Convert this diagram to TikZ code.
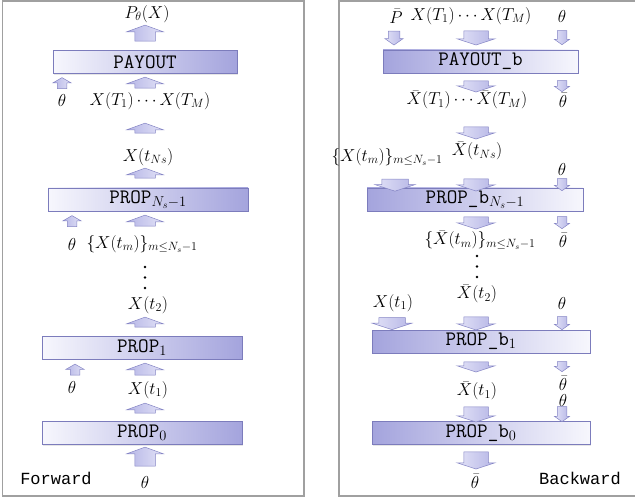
\documentclass[tikz,border=0pt]{standalone}
\usepackage{fontspec}
\newfontfamily\courfont{Liberation Mono}
\usetikzlibrary{shapes.arrows,shadows}

\definecolor{BoxLight}{HTML}{F7F7FD}
\definecolor{BoxDark}{HTML}{A4A4DD}
\definecolor{BoxEdge}{HTML}{7C7CBC}
\definecolor{ArrFill}{HTML}{B6B6E6}
\definecolor{ArrLight}{HTML}{E2E2F7}
\definecolor{ArrEdge}{HTML}{8484C4}
\definecolor{Frame}{HTML}{A0A0A0}

\begin{document}
\begin{tikzpicture}[
  x=1pt, y=-1pt,
  lbl/.style={font=\fontsize{17}{20}\selectfont, inner sep=0pt},
  box/.style={draw=BoxEdge, line width=0.6pt, minimum height=23pt, inner sep=0pt,
    font=\fontsize{20.5}{22}\selectfont\ttfamily,
    drop shadow={opacity=0.2, shadow xshift=0.8pt, shadow yshift=-1.2pt}},
  fwdbox/.style={box, left color=BoxLight, right color=BoxDark},
  bwdbox/.style={box, left color=BoxDark, right color=BoxLight},
  arr/.style={single arrow, draw=ArrEdge, line width=0.5pt,
    inner xsep=0pt, minimum width=0pt},
  uparr/.style={arr, rotate=90, left color=ArrFill, right color=ArrLight},
  dnarr/.style={arr, rotate=-90, left color=ArrLight, right color=ArrFill},
  fwdarr/.style={uparr, inner ysep=10pt, single arrow head extend=8pt, single arrow tip angle=140},
  fwdsmall/.style={uparr, inner ysep=4.5pt, single arrow head extend=4.5pt, single arrow tip angle=120, minimum height=11pt},
  bwdarr/.style={dnarr, inner ysep=12pt, single arrow head extend=6.5pt, single arrow tip angle=144},
  bwdwide/.style={dnarr, inner ysep=13pt, single arrow head extend=6.5pt, single arrow tip angle=144, minimum height=12pt},
  bwdsmall/.style={dnarr, inner ysep=4.5pt, single arrow head extend=2.8pt, single arrow tip angle=110},
  dot/.style={circle, fill=black, inner sep=0pt, minimum size=2.8pt},
  tag/.style={font=\fontsize{17}{20}\selectfont\courfont, inner sep=0pt},
]
\useasboundingbox (0,0) rectangle (635,500);

% ---- frames ----
\draw[Frame, line width=1.6pt] (2.5,1) rectangle (304,496);
\draw[Frame, line width=1.6pt] (339,1) rectangle (645,496);

% ---- left: forward sweep ----
\node[fwdbox, minimum width=184pt] (payout) at (145,62) {PAYOUT};
\node[fwdbox, minimum width=200pt] (propN) at (148,199.5) {PROP$_{N_s-1}$};
\node[fwdbox, minimum width=200pt] (prop1) at (142,347.5) {PROP$_1$};
\node[fwdbox, minimum width=200pt] (prop0) at (142,433) {PROP$_0$};

\foreach \n/\y/\h in {1/35/16, 2/84.5/11, 3/130/10, 4/175/10, 5/222.5/11,
                      6/324/10, 7/371/12, 8/410/10, 9/458.5/19}
  \node[fwdarr, minimum height=\h pt] (fa\n) at (145,\y) {};
\node[fwdsmall] (fs1) at (62,84.5) {};
\node[fwdsmall] (fs2) at (72,222.5) {};
\node[fwdsmall] (fs3) at (75,371) {};

\node[lbl] (pout) at (147,14) {$P_\theta(X)$};
\node[lbl] (fth1) at (62,101) {$\theta$};
\node[lbl] (fxT) at (150,101) {$X(T_1)\cdots X(T_M)$};
\node[lbl] (fxN) at (148,157) {$X(t_{Ns})$};
\node[lbl] (fth2) at (72,244) {$\theta$};
\node[lbl] (fxm) at (142,244) {$\{X(t_m)\}_{m\le N_s-1}$};
\foreach \y [count=\i] in {267,277.5,288}
  \node[dot] (fd\i) at (145,\y) {};
\node[lbl] (fx2) at (148,305) {$X(t_2)$};
\node[lbl] (fth3) at (72,387) {$\theta$};
\node[lbl] (fx1) at (148,390) {$X(t_1)$};
\node[lbl] (fth0) at (145,482) {$\theta$};
\node[tag] (fwd) at (56,478) {Forward};

% ---- right: backward sweep ----
\node[bwdbox, minimum width=195pt] (payoutb) at (480.5,61.5) {PAYOUT\_b};
\node[bwdbox, minimum width=216pt] (propbN) at (475,199.5) {PROP\_b$_{N_s-1}$};
\node[bwdbox, minimum width=218pt] (propb1) at (481,341.5) {PROP\_b$_1$};
\node[bwdbox, minimum width=218pt] (propb0) at (481,433) {PROP\_b$_0$};

\foreach \n/\y/\h in {1/36/14, 2/84.5/11, 3/131/12, 4/183/12, 5/221/12,
                      6/321.5/13, 7/365/10, 8/412.5/15, 9/458.5/17}
  \node[bwdarr, minimum height=\h pt] (ba\n) at (476,\y) {};
\foreach \n/\y/\h in {1/36/14, 2/84.5/11, 3/183/12, 4/221/12,
                      5/321.5/13, 6/365/10, 7/412.5/15}
  \node[bwdsmall, minimum height=\h pt] (bs\n) at (562,\y) {};
\node[bwdsmall, inner ysep=5.5pt, single arrow head extend=3.5pt, minimum height=14pt] (bp) at (394,36) {};
\node[bwdwide] (bw1) at (395,183) {};
\node[bwdwide] (bw2) at (392,321.5) {};

\node[lbl] (pbar) at (396,16) {$\bar P$};
\node[lbl] (bxT) at (471,16) {$X(T_1)\cdots X(T_M)$};
\node[lbl] (bth1) at (562,17) {$\theta$};
\node[lbl] (bxTb) at (467,100) {$\bar X(T_1)\cdots\bar X(T_M)$};
\node[lbl] (bthb1) at (563,100) {$\bar\theta$};
\node[lbl] (bxN) at (477,151) {$\bar X(t_{Ns})$};
\node[lbl] (bxm) at (387,157) {$\{X(t_m)\}_{m\le N_s-1}$};
\node[lbl] (bth2) at (562,170) {$\theta$};
\node[lbl] (bxmb) at (480,240) {$\{\bar X(t_m)\}_{m\le N_s-1}$};
\node[lbl] (bthb2) at (563,240) {$\bar\theta$};
\foreach \y [count=\i] in {256,266.5,277}
  \node[dot] (bd\i) at (477,\y) {};
\node[lbl] (bx2) at (477,294) {$\bar X(t_2)$};
\node[lbl] (bx1) at (393,303) {$X(t_1)$};
\node[lbl] (bth3) at (562,303) {$\theta$};
\node[lbl] (bx1b) at (477,391) {$\bar X(t_1)$};
\node[lbl] (bthb3) at (563,383) {$\bar\theta$};
\node[lbl] (bth4) at (563,400) {$\theta$};
\node[lbl] (bthb0) at (475,481) {$\bar\theta$};
\node[tag] (bwd) at (580,478) {Backward};
\end{tikzpicture}
\end{document}
